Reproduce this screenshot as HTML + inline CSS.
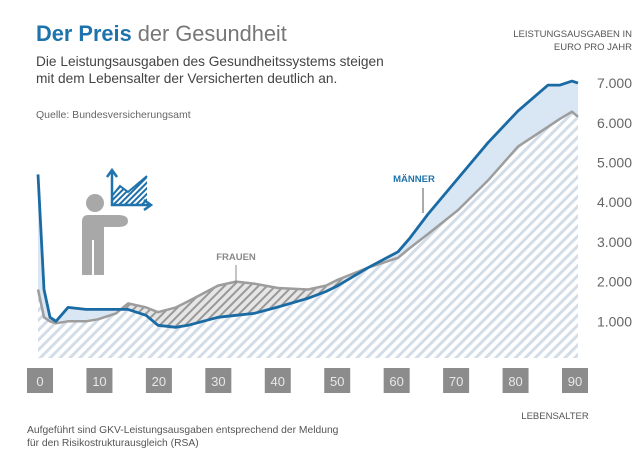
<!DOCTYPE html>
<html><head><meta charset="utf-8"><style>
body{margin:0;background:#fff;width:643px;height:462px;overflow:hidden;font-family:"Liberation Sans",sans-serif}
svg{display:block}
</style></head><body>
<svg width="643" height="462" viewBox="0 0 643 462">
<defs>
<pattern id="hatchLight" patternUnits="userSpaceOnUse" width="7" height="7" patternTransform="rotate(45)">
<rect width="7" height="7" fill="#fff"/><rect width="3" height="7" fill="#d3dde8"/></pattern>
<pattern id="hatchDark" patternUnits="userSpaceOnUse" width="6" height="6" patternTransform="rotate(45)">
<rect width="6" height="6" fill="#e6e6e6"/><rect width="2" height="6" fill="#9a9a9a"/></pattern>
<pattern id="hatchIcon" patternUnits="userSpaceOnUse" width="4" height="4" patternTransform="rotate(45)">
<rect width="4" height="4" fill="#fff"/><rect width="2" height="4" fill="#1f6fa8"/></pattern>
<clipPath id="aboveMen"><path id="aboveMenPath"/></clipPath>
</defs>
<text x="36" y="41" font-size="21.8"><tspan font-weight="bold" fill="#1f73ad">Der Preis</tspan><tspan fill="#777"> der Gesundheit</tspan></text>
<text x="36" y="66" font-size="13.7" fill="#444">Die Leistungsausgaben des Gesundheitssystems steigen</text>
<text x="36" y="83" font-size="13.7" fill="#444">mit dem Lebensalter der Versicherten deutlich an.</text>
<text x="36" y="118" font-size="10.5" fill="#666">Quelle: Bundesversicherungsamt</text>
<text x="632" y="37" font-size="9.5" fill="#555" text-anchor="end">LEISTUNGSAUSGABEN IN</text>
<text x="632" y="50" font-size="9.5" fill="#555" text-anchor="end">EURO PRO JAHR</text>
<g id="areas"></g>
<g id="yticks"></g>
<g id="xticks"></g>
<text x="555" y="419" font-size="9.5" fill="#555" text-anchor="middle">LEBENSALTER</text>
<text x="27" y="433" font-size="10.3" fill="#555">Aufgeführt sind GKV-Leistungsausgaben entsprechend der Meldung</text>
<text x="27" y="446" font-size="10.3" fill="#555">für den Risikostrukturausgleich (RSA)</text>
<g>
<circle cx="95" cy="203" r="9" fill="#a8a8a8"/>
<path d="M84 215 L118 215 Q128 215 128 221 Q128 227 118 227 L104 227 L104 275 L82 275 L82 222 Q82 215 88 215 Z" fill="#a8a8a8"/>
<line x1="93" y1="240" x2="93" y2="275" stroke="#fff" stroke-width="2"/>
</g>
<g>
<path d="M112 204 L112 196 L120 186 L128 192 L147 176 L147 204 Z" fill="url(#hatchIcon)"/>
<path d="M112 171 L112 205 L150 205" fill="none" stroke="#1f73ad" stroke-width="2.5"/>
<path d="M107 177 L112 170 L117 177 M144 200 L151 205 L144 210" fill="none" stroke="#1f73ad" stroke-width="2.5"/>
<path d="M112 196 L120 186 L128 192 L147 176" fill="none" stroke="#1f73ad" stroke-width="2"/>
</g>
<text x="236" y="260" font-size="9.5" font-weight="bold" fill="#888" text-anchor="middle">FRAUEN</text>
<line x1="236" y1="265" x2="236" y2="283" stroke="#888" stroke-width="1"/>
<text x="414" y="182" font-size="9.5" font-weight="bold" fill="#1f73ad" text-anchor="middle">MÄNNER</text>
<line x1="423" y1="188" x2="423" y2="213" stroke="#555" stroke-width="1"/>
</svg>
<script>
const ages=[0,1,2,3,5,8,10,13,15,18,20,23,25,30,33,36,40,45,48,50,55,60,62,65,70,75,80,85,87,89,90];
const men=[4700,1800,1100,1000,1350,1300,1300,1300,1300,1150,900,850,900,1100,1150,1200,1360,1580,1750,1900,2350,2750,3100,3700,4600,5500,6300,6950,6950,7050,7000];
const women=[1800,1100,1000,950,1000,1000,1050,1200,1450,1350,1230,1350,1500,1900,2000,1950,1840,1800,1900,2050,2350,2600,2850,3200,3800,4550,5400,5900,6100,6280,6150];
const yTicks=[1000,2000,3000,4000,5000,6000,7000];
const xTicks=[0,10,20,30,40,50,60,70,80,90];
const NS="http://www.w3.org/2000/svg";
const X=a=>38+a*(578-38)/90;
const Y=v=>361-v*0.0397;
const BASE=358;
function mk(t,attrs,parent){const e=document.createElementNS(NS,t);for(const k in attrs)e.setAttribute(k,attrs[k]);parent.appendChild(e);return e;}
function linePts(vals){return ages.map((a,i)=>X(a).toFixed(1)+","+Y(vals[i]).toFixed(1)).join(" L");}
const g=document.getElementById("areas");
const menLine="M"+linePts(men), womenLine="M"+linePts(women);
const menArea=mk("path",{d:menLine+` L${X(90)},${BASE} L${X(0)},${BASE} Z`,fill:"#d9e6f3"},g);


const womenArea=mk("path",{d:womenLine+` L${X(90)},${BASE} L${X(0)},${BASE} Z`,fill:"url(#hatchLight)"},g);


document.getElementById("aboveMenPath").setAttribute("d",menLine+` L${X(90)},0 L${X(0)},0 Z`);
const excess=mk("path",{d:womenLine+` L${X(90)},${BASE} L${X(0)},${BASE} Z`,fill:"url(#hatchDark)","clip-path":"url(#aboveMen)"},g);


const wl=mk("path",{d:womenLine,fill:"none",stroke:"#9d9d9d","stroke-width":2.5,"stroke-linejoin":"round"},g);


const ml=mk("path",{d:menLine,fill:"none",stroke:"#1a6aa3","stroke-width":2.8,"stroke-linejoin":"round"},g);


const yt=document.getElementById("yticks");
yTicks.forEach(v=>{const t=mk("text",{x:632,y:Y(v)+5,"font-size":14,fill:"#666","text-anchor":"end"},yt);t.textContent=v.toLocaleString("de-DE");

});
const xt=document.getElementById("xticks");
xTicks.forEach(a=>{const cx=40+a*(575-40)/90;
const r=mk("rect",{x:cx-13,y:368,width:26,height:25,fill:"#8c8c8c"},xt);


const t=mk("text",{x:cx,y:386,"font-size":13,fill:"#e8e8e8","text-anchor":"middle"},xt);t.textContent=a;

});
</script>
</body></html>
